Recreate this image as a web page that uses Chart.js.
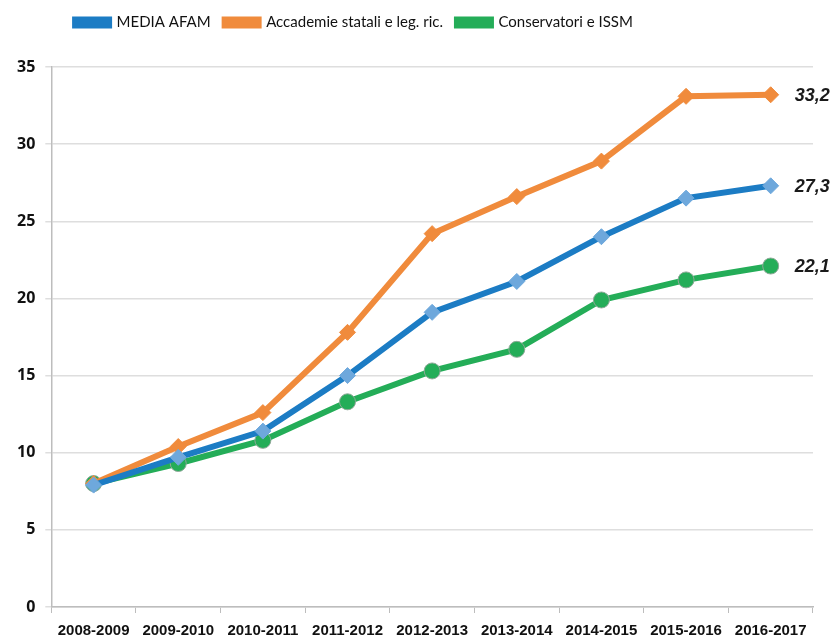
<!DOCTYPE html>
<html><head><meta charset="utf-8">
<script src="https://cdn.jsdelivr.net/npm/chart.js@4/dist/chart.umd.min.js"></script>
<style>html,body{margin:0;padding:0;background:#fff}#wrap{width:837px;height:640px}</style>
</head><body><div id="wrap"><canvas id="c" width="837" height="640"></canvas></div>
<script>
const categories = ['2008-2009','2009-2010','2010-2011','2011-2012','2012-2013','2013-2014','2014-2015','2015-2016','2016-2017'];
const mediaAfam = [7.9, 9.7, 11.4, 15.0, 19.1, 21.1, 24.0, 26.5, 27.3];
const accademie = [8.0, 10.4, 12.6, 17.8, 24.2, 26.6, 28.9, 33.1, 33.2];
const conservatori = [8.0, 9.3, 10.8, 13.3, 15.3, 16.7, 19.9, 21.2, 22.1];
const endLabels = ['27,3', '33,2', '22,1'];
const seriesNames = ['MEDIA AFAM', 'Accademie statali e leg. ric.', 'Conservatori e ISSM'];

const SANS = "'Liberation Sans', Arial, sans-serif";

const endLabelPlugin = {
  id: 'endLabels',
  afterDatasetsDraw(chart) {
    const ctx = chart.ctx;
    ctx.save();
    ctx.font = 'italic bold 18px ' + SANS;
    ctx.fillStyle = '#1a1a1a';
    ctx.textBaseline = 'middle';
    ctx.textAlign = 'left';
    chart.data.datasets.forEach((ds, i) => {
      const meta = chart.getDatasetMeta(i);
      const pt = meta.data[meta.data.length - 1];
      ctx.fillText(endLabels[i], pt.x + 24, pt.y + 1);
    });
    ctx.restore();
  }
};

const legendSpacing = {
  id: 'legendSpacing',
  beforeInit(chart) {
    const lg = chart.legend;
    const orig = lg.fit;
    lg.fit = function () { orig.bind(this)(); this.height += 27; };
  },
  afterLayout(chart) {
    chart.legend.left -= 56;
    chart.legend.right -= 56;
  }
};

new Chart(document.getElementById('c'), {
  type: 'line',
  data: {
    labels: categories,
    datasets: [
      { label: seriesNames[0], data: mediaAfam, borderColor: '#1c7cc4', backgroundColor: '#1c7cc4',
        borderWidth: 6, pointStyle: 'rectRot', pointRadius: 8, pointBackgroundColor: '#6ea8dc', pointBorderColor: '#6ea8dc', pointBorderWidth: 1, tension: 0 },
      { label: seriesNames[1], data: accademie, borderColor: '#f08b3c', backgroundColor: '#f08b3c',
        borderWidth: 6, pointStyle: 'rectRot', pointRadius: 8, pointBackgroundColor: '#f08b3c', pointBorderColor: '#f08b3c', pointBorderWidth: 1, tension: 0 },
      { label: seriesNames[2], data: conservatori, borderColor: '#24ad58', backgroundColor: '#24ad58',
        borderWidth: 6, pointStyle: 'circle', pointRadius: 8, pointBackgroundColor: '#24ad58', pointBorderColor: '#8fa898', pointBorderWidth: 1, tension: 0 }
    ]
  },
  options: {
    responsive: false,
    animation: false,
    layout: { padding: { left: 7, right: 24, top: 1, bottom: 0 } },
    plugins: {
      tooltip: { enabled: false },
      legend: {
        position: 'top',
        labels: {
          font: { family: "Lato, sans-serif", size: 15, weight: 'normal' },
          color: '#111',
          boxWidth: 34,
          boxHeight: 6,
          padding: 14
        }
      }
    },
    scales: {
      x: {
        offset: true,
        afterFit(scale) { scale.height -= 9; },
        grid: { display: true, drawOnChartArea: false, drawTicks: true, tickLength: 6, color: '#bdbdbd', offset: true },
        border: { color: '#bdbdbd', width: 1.5 },
        ticks: { font: { family: SANS, size: 15, weight: 'bold' }, color: '#111', maxRotation: 0, autoSkip: false, padding: 9 }
      },
      y: {
        min: 0, max: 35,
        grid: { color: '#dedede', lineWidth: 1.5, tickLength: 6, drawTicks: true },
        border: { color: '#bdbdbd', width: 1.5 },
        ticks: { stepSize: 5, font: { family: "'Open Sans', sans-serif", size: 16, weight: 'bold' }, color: '#111', padding: 10 }
      }
    }
  },
  plugins: [endLabelPlugin, legendSpacing]
});
</script></body></html>
